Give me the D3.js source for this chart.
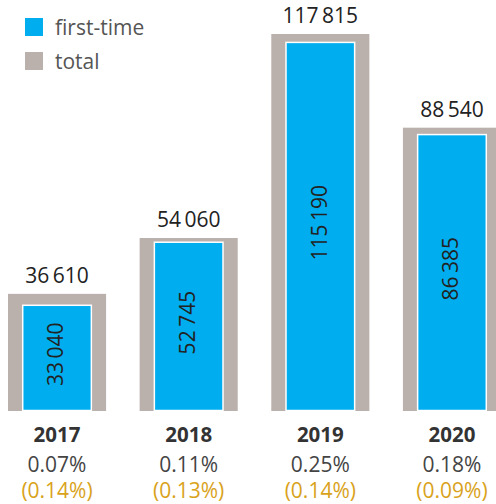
<!DOCTYPE html>
<meta charset="utf-8">
<style>
body { margin: 0; background: #fff; }
text { font-family: "Open Sans", sans-serif; }
</style>
<svg width="496" height="504"></svg>
<script src="https://cdn.jsdelivr.net/npm/d3@7"></script>
<script>
var years = ["2017", "2018", "2019", "2020"];
var totals = [36610, 54060, 117815, 88540];
var firstTime = [33040, 52745, 115190, 86385];
var shares = ["0.07%", "0.11%", "0.25%", "0.18%"];
var sharesPrev = ["(0.14%)", "(0.13%)", "(0.14%)", "(0.09%)"];

var blue = "#00aeef", grey = "#bab0ac", gold = "#d9a21b";

var svg = d3.select("svg");
var fmt = d3.formatLocale({decimal: ".", thousands: "\u2009", grouping: [3], currency: ["", ""]}).format(",d");

var x = d3.scaleBand()
    .domain(years)
    .range([8, 501])
    .paddingInner(0.255)
    .paddingOuter(0);
var y = d3.scaleLinear()
    .domain([0, 117815])
    .range([411, 34]);

var data = years.map(function(d, i) {
  return {year: d, total: totals[i], first: firstTime[i], share: shares[i], prev: sharesPrev[i]};
});

var inset = x.bandwidth() * 0.15;

var g = svg.selectAll(".bar")
    .data(data)
  .enter().append("g")
    .attr("class", "bar");

g.append("rect")
    .attr("x", function(d) { return x(d.year); })
    .attr("y", function(d) { return y(d.total); })
    .attr("width", x.bandwidth())
    .attr("height", function(d) { return y(0) - y(d.total); })
    .attr("fill", grey);

g.append("rect")
    .attr("x", function(d) { return x(d.year) + inset; })
    .attr("y", function(d) { return y(d.first); })
    .attr("width", x.bandwidth() - 2 * inset)
    .attr("height", function(d) { return y(0) - y(d.first) - 0.5; })
    .attr("fill", blue)
    .attr("stroke", "#fff")
    .attr("stroke-width", 1.5);

g.append("text")
    .attr("x", function(d) { return x(d.year) + x.bandwidth() / 2; })
    .attr("y", function(d) { return y(d.total) - 11; })
    .attr("text-anchor", "middle")
    .attr("fill", "#222")
    .style("font-size", "21px")
    .text(function(d) { return fmt(d.total); });

g.append("text")
    .attr("transform", function(d) {
      var cx = x(d.year) + x.bandwidth() / 2 - 1,
          cy = (y(d.first) + y(0)) / 2 - 4;
      return "translate(" + cx + "," + cy + ") rotate(-90)";
    })
    .attr("text-anchor", "middle")
    .attr("dy", "0.35em")
    .attr("fill", "#222")
    .style("font-size", "21px")
    .text(function(d) { return fmt(d.first); });

g.append("text")
    .attr("x", function(d) { return x(d.year) + x.bandwidth() / 2; })
    .attr("y", 442)
    .attr("text-anchor", "middle")
    .attr("fill", "#333")
    .style("font-size", "20.5px")
    .style("font-weight", "bold")
    .text(function(d) { return d.year; });

g.append("text")
    .attr("x", function(d) { return x(d.year) + x.bandwidth() / 2; })
    .attr("y", 471.5)
    .attr("text-anchor", "middle")
    .attr("fill", "#444")
    .style("font-size", "21px")
    .text(function(d) { return d.share; });

g.append("text")
    .attr("x", function(d) { return x(d.year) + x.bandwidth() / 2; })
    .attr("y", 497.5)
    .attr("text-anchor", "middle")
    .attr("fill", gold)
    .style("font-size", "21px")
    .text(function(d) { return d.prev; });

// legend
var legend = svg.selectAll(".legend")
    .data([["first-time", blue], ["total", grey]])
  .enter().append("g")
    .attr("class", "legend")
    .attr("transform", function(d, i) { return "translate(25," + (18 + i * 34) + ")"; });

legend.append("rect")
    .attr("width", 18)
    .attr("height", 18)
    .attr("fill", function(d) { return d[1]; });

legend.append("text")
    .attr("x", 30)
    .attr("y", 16.5)
    .attr("fill", "#555")
    .style("font-size", "21px")
    .text(function(d) { return d[0]; });
</script>
